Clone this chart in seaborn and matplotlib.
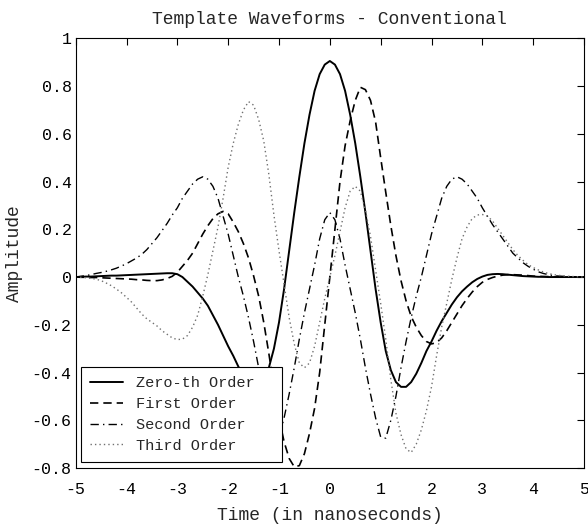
import numpy as np
import matplotlib
matplotlib.use("Agg")
import matplotlib.pyplot as plt
import seaborn as sns

# Sample times (ns), 0.1 ns spacing
time_ns = np.round(np.linspace(-5.0, 5.0, 101), 1)

# Template amplitudes at each sample time
zeroth_order = [
    0.0, 0.001, 0.002, 0.002, 0.003, 0.004, 0.005, 0.006, 0.006, 0.007,
    0.008, 0.009, 0.010, 0.011, 0.012, 0.013, 0.014, 0.015, 0.016, 0.016,
    0.012, 0.0, -0.02, -0.04, -0.065, -0.09, -0.12, -0.16, -0.20, -0.245,
    -0.29, -0.33, -0.375, -0.41, -0.44, -0.455, -0.455, -0.43, -0.38, -0.30,
    -0.19, -0.05, 0.11, 0.27, 0.42, 0.56, 0.68, 0.78, 0.85, 0.89,
    0.905, 0.89, 0.85, 0.78, 0.68, 0.56, 0.42, 0.27, 0.11, -0.05,
    -0.19, -0.31, -0.39, -0.44, -0.46, -0.46, -0.44, -0.405, -0.36, -0.31,
    -0.27, -0.225, -0.185, -0.15, -0.115, -0.085, -0.06, -0.04, -0.022, -0.008,
    0.002, 0.009, 0.012, 0.013, 0.012, 0.010, 0.008, 0.006, 0.004, 0.003,
    0.002, 0.001, 0.001, 0.0, 0.0, 0.0, 0.0, 0.0, 0.0, 0.0,
    0.0,
]
first_order = [
    0.0, -0.001, -0.001, -0.002, -0.002, -0.003, -0.004, -0.005, -0.006, -0.007,
    -0.008, -0.009, -0.011, -0.012, -0.014, -0.015, -0.015, -0.012, -0.006, 0.003,
    0.02, 0.045, 0.07, 0.10, 0.14, 0.18, 0.215, 0.245, 0.265, 0.275,
    0.265, 0.23, 0.19, 0.14, 0.08, 0.005, -0.08, -0.19, -0.32, -0.46,
    -0.59, -0.69, -0.76, -0.795, -0.79, -0.74, -0.655, -0.55, -0.40, -0.20,
    0.0, 0.20, 0.40, 0.55, 0.655, 0.74, 0.795, 0.785, 0.74, 0.65,
    0.50, 0.355, 0.215, 0.09, -0.015, -0.10, -0.165, -0.21, -0.245, -0.27,
    -0.28, -0.275, -0.255, -0.225, -0.19, -0.155, -0.12, -0.09, -0.063, -0.04,
    -0.022, -0.01, -0.002, 0.004, 0.008, 0.010, 0.010, 0.009, 0.008, 0.006,
    0.004, 0.003, 0.002, 0.002, 0.001, 0.001, 0.001, 0.0, 0.0, 0.0,
    0.0,
]
second_order = [
    0.0, 0.003, 0.006, 0.010, 0.015, 0.019, 0.024, 0.030, 0.037, 0.046,
    0.056, 0.068, 0.080, 0.095, 0.115, 0.14, 0.165, 0.195, 0.225, 0.26,
    0.29, 0.33, 0.36, 0.39, 0.41, 0.42, 0.41, 0.38, 0.33, 0.255,
    0.18, 0.09, 0.0, -0.08, -0.17, -0.27, -0.38, -0.50, -0.60, -0.675,
    -0.67, -0.59, -0.49, -0.38, -0.26, -0.15, -0.05, 0.05, 0.16, 0.24,
    0.27, 0.24, 0.16, 0.05, -0.05, -0.15, -0.26, -0.38, -0.49, -0.59,
    -0.67, -0.675, -0.60, -0.50, -0.38, -0.27, -0.17, -0.08, 0.0, 0.09,
    0.18, 0.255, 0.33, 0.38, 0.41, 0.42, 0.41, 0.39, 0.36, 0.33,
    0.29, 0.255, 0.22, 0.19, 0.16, 0.13, 0.10, 0.08, 0.06, 0.045,
    0.033, 0.022, 0.015, 0.010, 0.006, 0.004, 0.003, 0.002, 0.001, 0.001,
    0.0,
]
third_order = [
    0.0, -0.001, -0.003, -0.005, -0.009, -0.015, -0.025, -0.036, -0.05, -0.066,
    -0.085, -0.105, -0.13, -0.155, -0.175, -0.19, -0.205, -0.225, -0.24, -0.255,
    -0.262, -0.26, -0.245, -0.21, -0.16, -0.08, 0.01, 0.11, 0.21, 0.33,
    0.46, 0.56, 0.64, 0.70, 0.735, 0.72, 0.66, 0.57, 0.43, 0.26,
    0.11, -0.03, -0.17, -0.28, -0.36, -0.38, -0.36, -0.29, -0.19, -0.09,
    0.0, 0.09, 0.19, 0.29, 0.36, 0.38, 0.36, 0.28, 0.17, 0.03,
    -0.11, -0.26, -0.43, -0.57, -0.66, -0.72, -0.735, -0.70, -0.64, -0.56,
    -0.46, -0.33, -0.21, -0.11, -0.01, 0.08, 0.16, 0.21, 0.245, 0.26,
    0.262, 0.255, 0.235, 0.205, 0.175, 0.145, 0.115, 0.09, 0.07, 0.052,
    0.04, 0.03, 0.021, 0.015, 0.010, 0.007, 0.005, 0.003, 0.002, 0.001,
    0.0,
]

series_names = ["Zero-th Order", "First Order", "Second Order", "Third Order"]
x_ticks = [-5, -4, -3, -2, -1, 0, 1, 2, 3, 4, 5]
y_ticks = [-0.8, -0.6, -0.4, -0.2, 0.0, 0.2, 0.4, 0.6, 0.8, 1.0]
y_tick_labels = ["-0.8", "-0.6", "-0.4", "-0.2", "0", "0.2", "0.4", "0.6", "0.8", "1"]

sns.set_theme(style="white")
plt.rcParams["font.family"] = ["Liberation Mono", "DejaVu Sans Mono"]
plt.rcParams["axes.linewidth"] = 0.8

fig = plt.figure(figsize=(5.88, 5.28), dpi=100)
ax = fig.add_axes([0.1287, 0.1136, 0.8645, 0.8138])

line_styles = [
    dict(color="black", linewidth=1.4, linestyle="-"),
    dict(color="black", linewidth=1.2, linestyle=(0, (5, 3))),
    dict(color="black", linewidth=1.0, linestyle=(0, (6, 3, 1, 3))),
    dict(color="#707070", linewidth=1.0, linestyle=(0, (1, 2.2))),
]
for name, values, style in zip(
    series_names, [zeroth_order, first_order, second_order, third_order], line_styles
):
    sns.lineplot(x=time_ns, y=values, ax=ax, label=name, **style)

ax.set_xlim(-5, 5)
ax.set_ylim(-0.8, 1.0)
ax.set_xticks(x_ticks)
ax.set_xticklabels([str(v) for v in x_ticks])
ax.set_yticks(y_ticks)
ax.set_yticklabels(y_tick_labels)
ax.tick_params(axis="both", which="major", direction="in", length=5, width=0.8,
               top=True, right=True, labelsize=12, colors="black")
ax.tick_params(axis="x", pad=10)
ax.tick_params(axis="y", pad=3)
for spine in ax.spines.values():
    spine.set_color("black")
    spine.set_linewidth(0.8)

ax.set_title("Template Waveforms - Conventional", fontsize=13, pad=10)
ax.set_xlabel("Time (in nanoseconds)", fontsize=13, labelpad=7)
ax.set_ylabel("Amplitude", fontsize=13, labelpad=6)

leg = ax.legend(loc="lower left", bbox_to_anchor=(0.0098, 0.014, 0.3954, 0.221),
                mode="expand", borderaxespad=0, frameon=True, fancybox=False,
                edgecolor="black", framealpha=1, fontsize=11, handlelength=2.2,
                handletextpad=0.85, borderpad=0.6, labelspacing=0.45)
leg.get_frame().set_linewidth(0.8)

fig.savefig("out.png", dpi=100, facecolor="white")
